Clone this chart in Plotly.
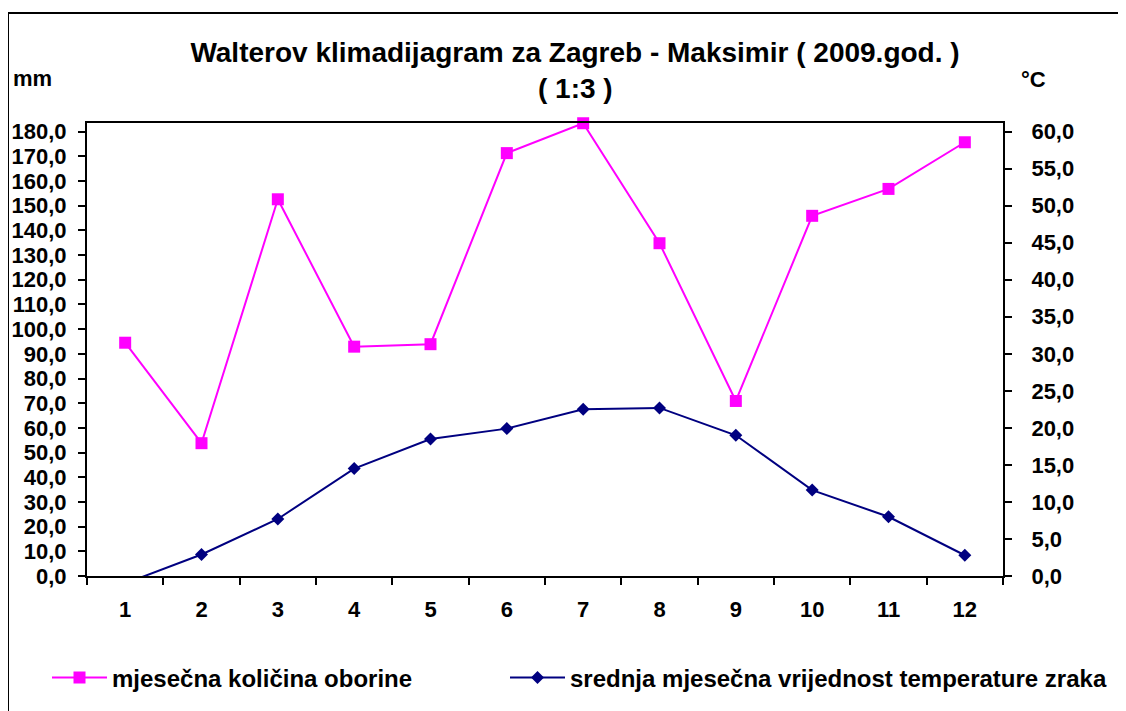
import plotly.graph_objects as go

months = [str(m) for m in range(1, 13)]
precip_mm = [94.5, 53.8, 152.6, 92.9, 93.9, 171.3, 183.4, 134.8, 70.9, 145.9, 156.8, 175.7]
temp_c = [-1.0, 2.9, 7.7, 14.5, 18.5, 19.9, 22.5, 22.7, 19.0, 11.6, 8.0, 2.8]

FONT = "Arial, Liberation Sans, sans-serif"
OFF = 8  # page body margin
W, H = 1126 - OFF, 711 - OFF
# plot area edges, in page pixels of the reference
L, R, T, B = 87, 1003, 123, 576


def px(x):
    return (x - L) / (R - L)


def py(y):
    return (B - y) / (B - T)


fig = go.Figure()
fig.add_trace(go.Scatter(
    x=months, y=precip_mm, name="mjesečna količina oborine",
    mode="lines+markers", cliponaxis=False, legend="legend",
    line=dict(color="#FF00FF", width=2),
    marker=dict(symbol="square", size=12, color="#FF00FF"),
))
fig.add_trace(go.Scatter(
    x=months, y=temp_c, name="srednja mjesečna vrijednost temperature zraka",
    mode="lines+markers", yaxis="y2", legend="legend2",
    line=dict(color="#000080", width=2),
    marker=dict(symbol="diamond", size=10, color="#000080"),
))

ymax = 183.5
tick = dict(family=FONT, size=22, color="black", weight="bold")
legend_font = dict(family=FONT, size=24, color="black", weight="bold")
axis_common = dict(tickwidth=2, tickcolor="black", showgrid=False,
                   zeroline=False, automargin=False)
# extra tick-only axes so the tick marks cross the axis lines, as in Excel
inner = dict(ticks="inside", ticklen=4, showline=False,
             showticklabels=False, **axis_common)

fig.update_layout(
    width=W, height=H,
    margin=dict(l=L - OFF, r=1126 - R, t=T - OFF, b=711 - B, autoexpand=False),
    paper_bgcolor="white", plot_bgcolor="white",
    separators=",.",
    showlegend=True,
    title=dict(
        text="Walterov klimadijagram za Zagreb - Maksimir ( 2009.god. )",
        font=dict(family=FONT, size=28, color="black", weight="bold"),
        x=(575 - OFF) / W, xref="container", xanchor="center",
        y=1 - (52 - OFF) / H, yref="container", yanchor="middle",
    ),
    xaxis=dict(
        type="category", range=[-0.5, 11.5], tickson="boundaries",
        ticks="outside", ticklen=7, showline=True, linecolor="black",
        linewidth=2, mirror=True, tickfont=tick, ticklabelstandoff=13,
        **axis_common,
    ),
    xaxis2=dict(
        type="category", range=[-0.5, 11.5], tickson="boundaries",
        overlaying="x", anchor="y", side="bottom",
        categoryarray=months, categoryorder="array", **inner,
    ),
    yaxis=dict(
        range=[0, ymax], dtick=10, tickformat=".1f", ticks="outside",
        ticklen=7, showline=True, linecolor="black", linewidth=2,
        tickfont=tick, ticklabelstandoff=7, **axis_common,
    ),
    yaxis2=dict(
        range=[0, ymax / 3], dtick=5, tickformat=".1f", overlaying="y",
        side="right", ticks="outside", ticklen=7, showline=True,
        linecolor="black", linewidth=2, tickfont=tick, ticklabelstandoff=15,
        **axis_common,
    ),
    yaxis3=dict(range=[0, ymax], dtick=10, overlaying="y", side="left",
                anchor="x", **inner),
    yaxis4=dict(range=[0, ymax / 3], dtick=5, overlaying="y", side="right",
                anchor="x", **inner),
    legend=dict(
        orientation="h", xref="container", yref="container",
        x=(52 - OFF - 5) / W, y=1 - (678 - OFF) / H,
        xanchor="left", yanchor="middle", font=legend_font,
        itemwidth=55, bgcolor="rgba(0,0,0,0)",
    ),
    legend2=dict(
        orientation="h", xref="container", yref="container",
        x=(510 - OFF - 5) / W, y=1 - (678 - OFF) / H,
        xanchor="left", yanchor="middle", font=legend_font,
        itemwidth=55, bgcolor="rgba(0,0,0,0)",
    ),
    annotations=[
        dict(text="( 1:3 )", xref="paper", yref="paper",
             x=px(575), y=py(88), xanchor="center", yanchor="middle",
             showarrow=False,
             font=dict(family=FONT, size=28, color="black", weight="bold")),
        dict(text="mm", xref="paper", yref="paper",
             x=px(11), y=py(79), xanchor="left", yanchor="middle",
             showarrow=False,
             font=dict(family=FONT, size=22, color="black", weight="bold")),
        dict(text="°C", xref="paper", yref="paper",
             x=px(1019), y=py(80), xanchor="left", yanchor="middle",
             showarrow=False,
             font=dict(family=FONT, size=22, color="black", weight="bold")),
    ],
    shapes=[
        dict(type="rect", xref="paper", yref="paper",
             x0=px(8), x1=px(1160), y0=py(760), y1=py(13),
             line=dict(color="black", width=2), layer="below"),
    ],
)

fig.write_html("out.html")
